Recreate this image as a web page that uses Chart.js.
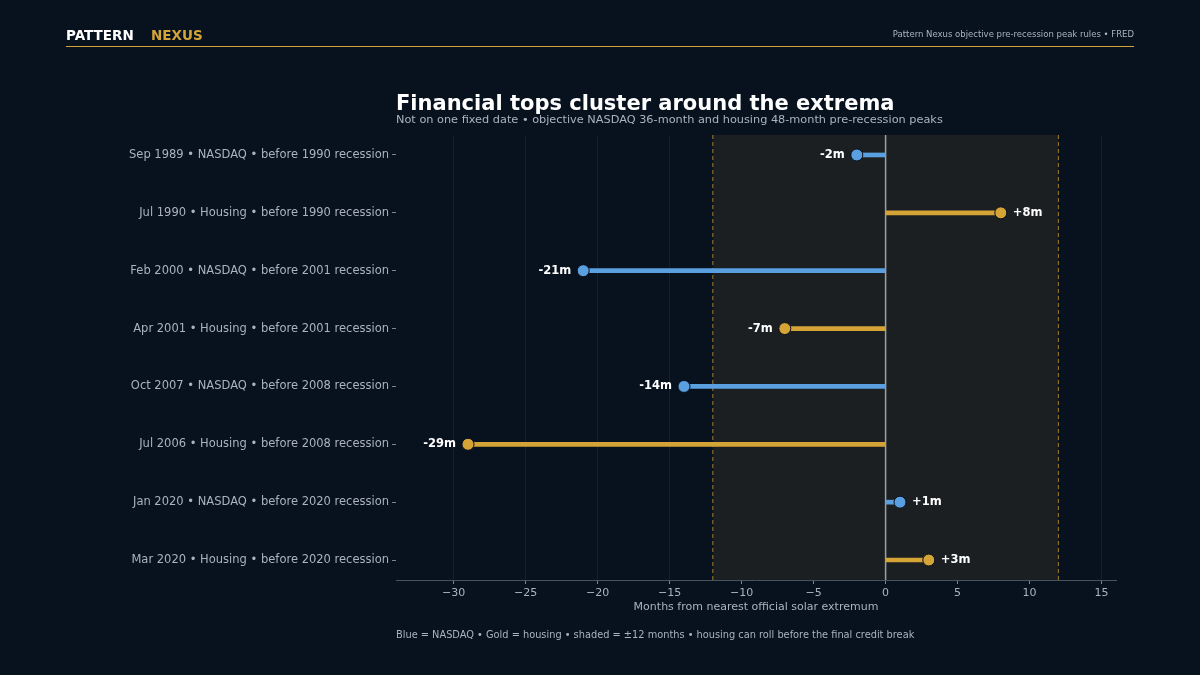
<!DOCTYPE html>
<html><head><meta charset="utf-8">
<script src="https://cdn.jsdelivr.net/npm/chart.js@4"></script>
<style>html,body{margin:0;background:#08111e;}canvas{display:block}</style>
</head><body><div style="width:1200px;height:675px"><canvas id="c"></canvas></div>
<script>
const categories = ["Sep 1989 • NASDAQ • before 1990 recession","Jul 1990 • Housing • before 1990 recession","Feb 2000 • NASDAQ • before 2001 recession","Apr 2001 • Housing • before 2001 recession","Oct 2007 • NASDAQ • before 2008 recession","Jul 2006 • Housing • before 2008 recession","Jan 2020 • NASDAQ • before 2020 recession","Mar 2020 • Housing • before 2020 recession"];
const offsets = [-2, 8, -21, -7, -14, -29, 1, 3];
const kinds = ["nasdaq","housing","nasdaq","housing","nasdaq","housing","nasdaq","housing"];
const xTicks = [-30,-25,-20,-15,-10,-5,0,5,10,15];
const BLUE="#5a9fe0", GOLD="#d4a437";
const colors = kinds.map(k=>k==="nasdaq"?BLUE:GOLD);
const FONT="'DejaVu Sans', sans-serif";

const deco = {
  id:'deco',
  beforeDatasetsDraw(ch){
    const {ctx,chartArea:a,scales:{x}}=ch;
    const l=x.getPixelForValue(-12), r=x.getPixelForValue(12);
    ctx.save();
    ctx.fillStyle="#1c1f22"; ctx.fillRect(l,a.top,r-l,a.bottom-a.top);
    ctx.strokeStyle="#a07c2c"; ctx.setLineDash([4,3]); ctx.lineWidth=1;
    [l,r].forEach(p=>{ctx.beginPath();ctx.moveTo(p,a.top);ctx.lineTo(p,a.bottom);ctx.stroke();});
    ctx.setLineDash([]);
    const z=x.getPixelForValue(0);
    ctx.strokeStyle="#9aa0a6"; ctx.lineWidth=1.5;
    ctx.beginPath();ctx.moveTo(z,a.top);ctx.lineTo(z,a.bottom);ctx.stroke();
    ctx.restore();
  },
  afterDraw(ch){
    const {ctx,scales:{x,y}}=ch;
    ctx.save();
    ctx.textBaseline="middle";
    ctx.font="bold 13.5px "+FONT; ctx.fillStyle="#ffffff"; ctx.textAlign="left";
    ctx.fillText("PATTERN",66,36);
    ctx.fillStyle=GOLD; ctx.fillText("NEXUS",151,36);
    ctx.font="8.5px "+FONT; ctx.fillStyle="#aab3bf"; ctx.textAlign="right";
    ctx.fillText("Pattern Nexus objective pre-recession peak rules • FRED",1134,35);
    ctx.strokeStyle=GOLD; ctx.lineWidth=1; ctx.beginPath();ctx.moveTo(66,46.5);ctx.lineTo(1134,46.5);ctx.stroke();
    ctx.textAlign="left"; ctx.fillStyle="#ffffff"; ctx.font="bold 21px "+FONT;
    ctx.fillText("Financial tops cluster around the extrema",396,105);
    ctx.font="11.3px "+FONT; ctx.fillStyle="#aab3bf";
    ctx.fillText("Not on one fixed date • objective NASDAQ 36-month and housing 48-month pre-recession peaks",396,120);
    ctx.font="9.8px "+FONT;
    ctx.fillText("Blue = NASDAQ • Gold = housing • shaded = ±12 months • housing can roll before the final credit break",396,635);
    ctx.font="bold 11.5px "+FONT; ctx.fillStyle="#ffffff";
    offsets.forEach((v,i)=>{
      const px=x.getPixelForValue(v), py=y.getPixelForValue(i);
      const t=(v>0?"+":"")+v+"m";
      if(v>0){ctx.textAlign="left";ctx.fillText(t,px+12,py);}else{ctx.textAlign="right";ctx.fillText(t,px-12,py);}
    });
    ctx.restore();
  }
};

new Chart(document.getElementById('c'),{
  type:'bar',
  data:{labels:categories,datasets:[
    {data:offsets.map((v,i)=>({x:[0,v],y:i})),backgroundColor:colors,barThickness:4,borderSkipped:false,order:2},
    {type:'scatter',data:offsets.map((v,i)=>({x:v,y:i})),backgroundColor:colors,borderColor:"#08111e",borderWidth:1,pointRadius:6,order:1}
  ]},
  options:{
    indexAxis:'y',responsive:true,maintainAspectRatio:false,animation:false,
    layout:{padding:{top:135,right:84,bottom:61,left:0}},
    plugins:{legend:{display:false},tooltip:{enabled:false}},
    scales:{
      x:{type:'linear',min:-34,max:16,
        afterBuildTicks(s){s.ticks=xTicks.map(v=>({value:v}));},
        ticks:{color:"#aab3bf",font:{family:FONT,size:11},callback:v=>String(v).replace('-','−')},
        grid:{color:"rgba(120,140,160,0.12)",drawTicks:true,tickColor:"#7a8594",tickLength:4},
        border:{color:"#4a5360"},
        title:{display:true,text:"Months from nearest official solar extremum",color:"#aab3bf",font:{family:FONT,size:11},padding:{top:0,bottom:0}},
        afterFit(s){s.height=34;}
      },
      y:{type:'linear',reverse:true,min:-0.345,max:7.345,offset:false,
        afterBuildTicks(s){s.ticks=categories.map((c,i)=>({value:i}));},
        ticks:{color:"#aab3bf",font:{family:FONT,size:11.5},callback:v=>categories[v]},
        grid:{display:true,offset:false,drawOnChartArea:false,drawTicks:true,tickColor:"#7a8594",tickLength:4},
        border:{display:false},
        afterFit(s){s.width=396;}
      }
    }
  },
  plugins:[deco]
});
</script></body></html>
